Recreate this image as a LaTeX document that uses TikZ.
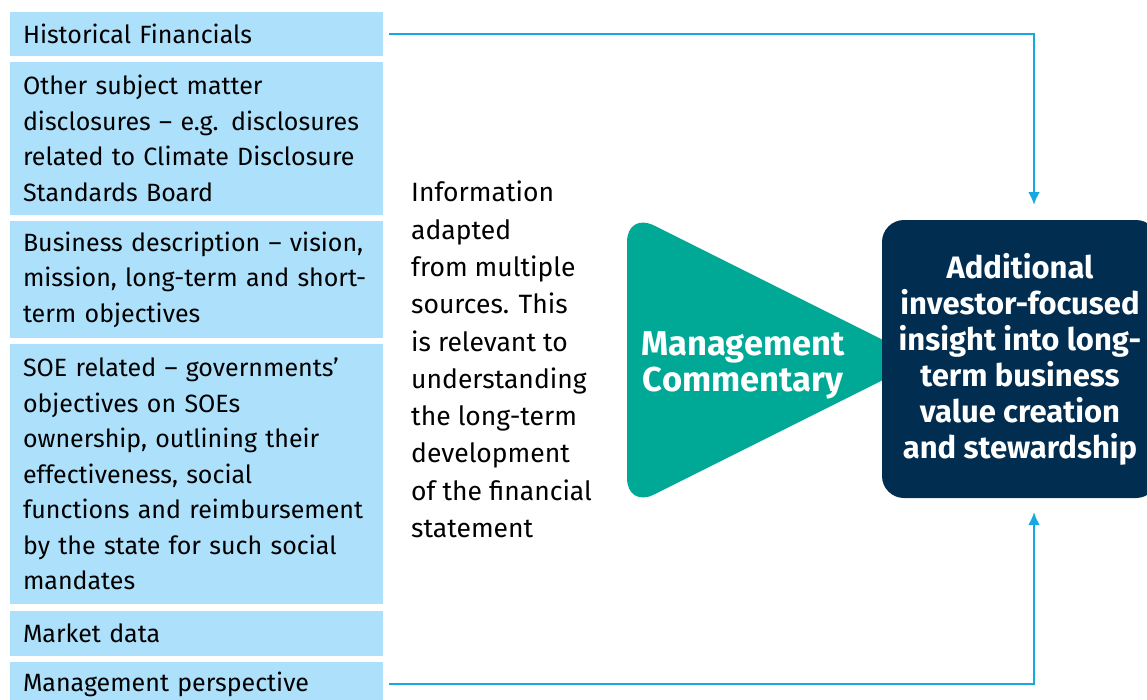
\documentclass[tikz,border=0pt]{standalone}
\usepackage{fontspec}
\setmainfont{Fira Sans}
\usetikzlibrary{arrows.meta,positioning}
\definecolor{srcblue}{HTML}{ADE0FA}
\definecolor{mcteal}{HTML}{00A996}
\definecolor{outnavy}{HTML}{002D50}
\definecolor{arrcyan}{HTML}{16A9E1}

\begin{document}
\begin{tikzpicture}[x=1pt,y=-1pt, node distance=6pt, every node/.style={font=\fontsize{25}{35.5}\selectfont}, src/.style={fill=srcblue,text width=347pt,inner xsep=13pt,inner ysep=0pt,outer sep=0pt,align=left}, arr/.style={-{Latex[length=13pt,width=12pt]},arrcyan,line width=2.6pt,shorten <=6pt}]
\useasboundingbox (0,0) rectangle (1147,699);
% sources
\node[src,anchor=north west,minimum height=44pt] (hist) at (10,12) {Historical Financials};
\node[src,below=of hist,minimum height=153pt] (other) {Other subject matter\\disclosures -- e.g. disclosures\\related to Climate Disclosure\\Standards Board};
\node[src,below=of other,minimum height=117pt] (bizd) {Business description -- vision,\\mission, long-term and short-\\term objectives};
\node[src,below=of bizd,minimum height=260pt] (soe) {SOE related -- governments'\\objectives on SOEs\\ownership, outlining their\\effectiveness, social\\functions and reimbursement\\by the state for such social\\mandates};
\node[src,below=7pt of soe,minimum height=45pt] (mkt) {Market data};
\node[src,below=of mkt,minimum height=44pt] (mgmt) {Management perspective};
% note
\node[anchor=north west,inner sep=0pt,align=left,font=\fontsize{26.5}{37.3}\selectfont] (info) at (411,181) {Information\\adapted\\from multiple\\sources. This\\is relevant to\\understanding\\the long-term\\development\\of the financial\\statement};
% management commentary
\fill[mcteal,rounded corners=30pt] (627,212) -- (923,360) -- (627,508) -- cycle;
\node[text=white,align=center,font=\fontsize{34.5}{36}\selectfont\bfseries] (mc) at (743,365) {Management\\Commentary};
\node[fill=outnavy,rounded corners=22pt,minimum width=276pt,minimum height=278pt,text=white,align=center,font=\fontsize{31}{36}\selectfont\bfseries] (out) at (1020,359) {Additional\\investor-focused\\insight into long-\\term business\\value creation\\and stewardship};
\coordinate (intop) at (1034,205);
\coordinate (inbot) at (1034,512);
\draw[arr] (hist.east) -| (intop);
\draw[arr] (mgmt.east) -| (inbot);
\end{tikzpicture}
\end{document}
